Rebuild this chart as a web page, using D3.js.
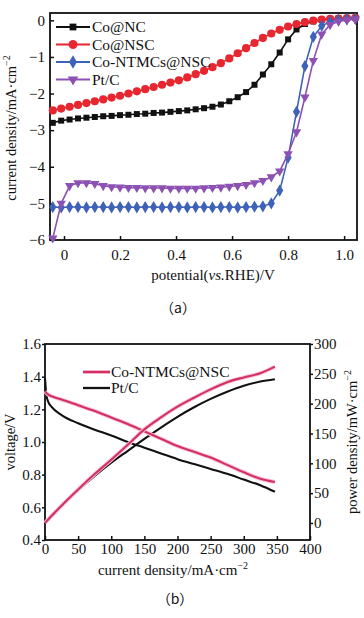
<!DOCTYPE html>
<html>
<head>
<meta charset="utf-8">
<script src="https://cdn.jsdelivr.net/npm/d3@7"></script>
<style>
  body { margin: 0; background: #fff; }
  svg { display: block; }
  text { font-family: "Liberation Serif", "Times New Roman", serif; fill: #111; }
</style>
</head>
<body>
<script>
// ---- panel (a) data: LSV curves ----
const potential = [-0.04, -0.01, 0.02, 0.05, 0.08, 0.11, 0.14, 0.17, 0.20, 0.23, 0.26, 0.29, 0.32, 0.35, 0.38, 0.41, 0.44, 0.47, 0.50, 0.53, 0.56, 0.59, 0.62, 0.65, 0.68, 0.71, 0.74, 0.77, 0.80, 0.83, 0.86, 0.89, 0.92, 0.95, 0.98, 1.01, 1.04];
const coNC = [-2.80, -2.74, -2.71, -2.68, -2.66, -2.64, -2.62, -2.61, -2.59, -2.58, -2.56, -2.55, -2.53, -2.52, -2.50, -2.48, -2.46, -2.43, -2.40, -2.36, -2.30, -2.21, -2.10, -1.96, -1.76, -1.48, -1.20, -0.88, -0.52, -0.25, -0.10, -0.03, 0.01, 0.03, 0.05, 0.06, 0.07];
const coNSC = [-2.46, -2.41, -2.36, -2.31, -2.26, -2.21, -2.16, -2.11, -2.06, -2.00, -1.94, -1.88, -1.82, -1.76, -1.70, -1.64, -1.56, -1.47, -1.38, -1.28, -1.17, -1.04, -0.90, -0.76, -0.62, -0.48, -0.36, -0.26, -0.17, -0.10, -0.05, -0.01, 0.02, 0.04, 0.05, 0.06, 0.07];
const coNTMCs = [-5.10, -5.11, -5.10, -5.10, -5.11, -5.10, -5.10, -5.11, -5.10, -5.10, -5.11, -5.10, -5.10, -5.11, -5.10, -5.10, -5.11, -5.10, -5.10, -5.11, -5.10, -5.10, -5.11, -5.10, -5.09, -5.08, -5.00, -4.65, -3.75, -2.50, -1.25, -0.45, -0.15, -0.04, 0.01, 0.03, 0.04];
const ptC = [-5.95, -5.00, -4.52, -4.44, -4.44, -4.46, -4.52, -4.55, -4.56, -4.57, -4.57, -4.58, -4.58, -4.58, -4.59, -4.59, -4.59, -4.59, -4.58, -4.57, -4.56, -4.54, -4.52, -4.49, -4.44, -4.38, -4.28, -4.12, -3.65, -3.05, -2.10, -1.10, -0.38, -0.12, -0.03, 0.01, 0.03];
const xTicksA = [0, 0.2, 0.4, 0.6, 0.8, 1.0];
const yTicksA = [0, -1, -2, -3, -4, -5, -6];

// ---- panel (b) data: polarization + power ----
const currentJ = [0, 2, 5, 10, 25, 50, 75, 100, 125, 150, 175, 200, 225, 250, 275, 300, 325, 347];
const voltNTMCs = [1.31, 1.30, 1.29, 1.28, 1.26, 1.225, 1.19, 1.15, 1.11, 1.065, 1.02, 0.975, 0.94, 0.905, 0.86, 0.815, 0.775, 0.755];
const powerNTMCs = [0, 2.5, 6, 12, 29, 56, 82, 106, 131, 157, 177, 195, 210, 224, 236, 244, 251, 262];
const voltPt = [1.39, 1.29, 1.245, 1.215, 1.165, 1.115, 1.075, 1.04, 1.00, 0.965, 0.93, 0.895, 0.865, 0.835, 0.805, 0.77, 0.735, 0.695];
const powerPt = [0, 2.5, 6, 12, 29, 55, 79, 101, 121, 141, 160, 178, 194, 208, 220, 230, 237, 241];
const xTicksB = [0, 50, 100, 150, 200, 250, 300, 350, 400];
const yTicksB = [0.4, 0.6, 0.8, 1.0, 1.2, 1.4, 1.6];
const yTicksB2 = [0, 50, 100, 150, 200, 250, 300];

const svg = d3.select("body").append("svg")
  .attr("width", 364)
  .attr("height", 618);

// ================= panel (a) =================
const a = { left: 50, right: 357, top: 13, bottom: 240 };
const xA = d3.scaleLinear().domain([-0.05, 1.046]).range([a.left, a.right]);
const yA = d3.scaleLinear().domain([-6, 0.2]).range([a.bottom, a.top]);

const gA = svg.append("g");

gA.append("g")
  .attr("transform", `translate(0,${a.bottom})`)
  .call(d3.axisBottom(xA).tickValues(xTicksA).tickSizeInner(-4).tickSizeOuter(0).tickPadding(9).tickFormat(d3.format(".1f")))
  .call(g => g.selectAll("text").text(d => d === 0 ? "0" : d3.format(".1f")(d)));
gA.append("g")
  .attr("transform", `translate(${a.left},0)`)
  .call(d3.axisLeft(yA).tickValues(yTicksA).tickSizeInner(-4).tickSizeOuter(0).tickPadding(5).tickFormat(d3.format("d")));

gA.selectAll(".tick text").style("font-family", "Liberation Serif").style("font-size", "15px").attr("fill", "#111");
gA.selectAll(".tick line").attr("stroke", "#111").attr("stroke-width", 1.5);
gA.selectAll(".domain").remove();

gA.append("rect")
  .attr("x", a.left).attr("y", a.top)
  .attr("width", a.right - a.left).attr("height", a.bottom - a.top)
  .attr("fill", "none").attr("stroke", "#111").attr("stroke-width", 1.8);

const seriesA = [
  { name: "Co@NC", values: coNC, color: "#111111", symbol: d3.symbolSquare, size: 36, rotate: 0 },
  { name: "Co@NSC", values: coNSC, color: "#e8262f", symbol: d3.symbolCircle, size: 52, rotate: 0 },
  { name: "Co-NTMCs@NSC", values: coNTMCs, color: "#3d62b8", symbol: d3.symbolDiamond, size: 44, rotate: 0 },
  { name: "Pt/C", values: ptC, color: "#8d50b3", symbol: d3.symbolTriangle, size: 38, rotate: 180 }
];

const lineA = d3.line().x(d => xA(d[0])).y(d => yA(d[1]));

seriesA.forEach(s => {
  const pts = potential.map((p, i) => [p, s.values[i]]);
  gA.append("path")
    .attr("d", lineA(pts))
    .attr("fill", "none")
    .attr("stroke", s.color)
    .attr("stroke-width", 1.6);
  gA.append("g").selectAll("path")
    .data(pts)
    .enter().append("path")
    .attr("d", d3.symbol().type(s.symbol).size(s.size))
    .attr("transform", d => `translate(${xA(d[0])},${yA(d[1])}) rotate(${s.rotate})`)
    .attr("fill", s.color);
});

// legend (a)
const legA = gA.append("g");
seriesA.forEach((s, i) => {
  const y = 27 + i * 17.5;
  legA.append("line")
    .attr("x1", 56).attr("x2", 90).attr("y1", y).attr("y2", y)
    .attr("stroke", s.color).attr("stroke-width", 1.8);
  legA.append("path")
    .attr("d", d3.symbol().type(s.symbol).size(s.size + 10))
    .attr("transform", `translate(73,${y}) rotate(${s.rotate})`)
    .attr("fill", s.color);
  legA.append("text")
    .attr("x", 92).attr("y", y + 5)
    .style("font-size", "15.5px")
    .text(s.name);
});

// titles (a)
const yTitleA = gA.append("text")
  .attr("transform", "translate(16,128) rotate(-90)")
  .attr("text-anchor", "middle")
  .style("font-size", "14.5px");
yTitleA.append("tspan").text("current density/mA·cm");
yTitleA.append("tspan").attr("dy", -6).style("font-size", "10px").text("−2");

const xTitleA = gA.append("text")
  .attr("x", 213).attr("y", 280)
  .attr("text-anchor", "middle")
  .style("font-size", "15px");
xTitleA.append("tspan").text("potential(");
xTitleA.append("tspan").style("font-style", "italic").text("vs.");
xTitleA.append("tspan").text("RHE)/V");

svg.append("text")
  .attr("x", 178).attr("y", 313)
  .attr("text-anchor", "middle")
  .style("font-family", "'Noto Sans CJK SC', 'Liberation Serif', serif")
  .style("font-size", "14px")
  .text("（a）");

// ================= panel (b) =================
const b = { left: 45, right: 310, top: 344, bottom: 540 };
const xB = d3.scaleLinear().domain([0, 400]).range([b.left, b.right]);
const yB = d3.scaleLinear().domain([0.4, 1.6]).range([b.bottom, b.top]);
const yB2 = d3.scaleLinear().domain([-28.5, 300]).range([b.bottom, b.top]);

const gB = svg.append("g");

gB.append("g")
  .attr("transform", `translate(0,${b.bottom})`)
  .call(d3.axisBottom(xB).tickValues(xTicksB).tickSizeInner(-4).tickSizeOuter(0).tickPadding(3).tickFormat(d3.format("d")));
gB.append("g")
  .attr("transform", `translate(${b.left},0)`)
  .call(d3.axisLeft(yB).tickValues(yTicksB).tickSizeInner(3).tickSizeOuter(0).tickPadding(1).tickFormat(d3.format(".1f")));
gB.append("g")
  .attr("transform", `translate(${b.right},0)`)
  .call(d3.axisRight(yB2).tickValues(yTicksB2).tickSizeInner(3).tickSizeOuter(0).tickPadding(1).tickFormat(d3.format("d")));

gB.selectAll(".tick text").style("font-family", "Liberation Serif").style("font-size", "15px").attr("fill", "#111");
gB.selectAll(".tick line").attr("stroke", "#111").attr("stroke-width", 1.5);
gB.selectAll(".domain").remove();

gB.append("rect")
  .attr("x", b.left).attr("y", b.top)
  .attr("width", b.right - b.left).attr("height", b.bottom - b.top)
  .attr("fill", "none").attr("stroke", "#111").attr("stroke-width", 1.8);

const pink = "#d42f66";
const glow = "#f7c6d5";
const seriesB = [
  { values: voltPt, scale: yB, color: "#111111", glow: null },
  { values: powerPt, scale: yB2, color: "#111111", glow: null },
  { values: voltNTMCs, scale: yB, color: pink, glow: glow },
  { values: powerNTMCs, scale: yB2, color: pink, glow: glow }
];

seriesB.forEach(s => {
  const line = d3.line().curve(d3.curveMonotoneX).x(d => xB(d[0])).y(d => s.scale(d[1]));
  const pts = currentJ.map((j, i) => [j, s.values[i]]);
  if (s.glow) {
    gB.append("path")
      .attr("d", line(pts))
      .attr("fill", "none")
      .attr("stroke", s.glow)
      .attr("stroke-width", 4);
  }
  gB.append("path")
    .attr("d", line(pts))
    .attr("fill", "none")
    .attr("stroke", s.color)
    .attr("stroke-width", 2.1);
});

// legend (b)
const legB = [
  { name: "Co-NTMCs@NSC", color: pink, glow: glow },
  { name: "Pt/C", color: "#111111", glow: null }
];
legB.forEach((s, i) => {
  const y = 372 + i * 16;
  if (s.glow) {
    gB.append("line")
      .attr("x1", 83).attr("x2", 110).attr("y1", y).attr("y2", y)
      .attr("stroke", s.glow).attr("stroke-width", 4);
  }
  gB.append("line")
    .attr("x1", 83).attr("x2", 110).attr("y1", y).attr("y2", y)
    .attr("stroke", s.color).attr("stroke-width", 2.3);
  gB.append("text")
    .attr("x", 111).attr("y", y + 5)
    .style("font-size", "15.5px")
    .text(s.name);
});

// titles (b)
gB.append("text")
  .attr("transform", "translate(15,442) rotate(-90)")
  .attr("text-anchor", "middle")
  .style("font-size", "14.5px")
  .text("voltage/V");

const y2Title = gB.append("text")
  .attr("transform", "translate(357,442) rotate(-90)")
  .attr("text-anchor", "middle")
  .style("font-size", "14.5px");
y2Title.append("tspan").text("power density/mW·cm");
y2Title.append("tspan").attr("dy", -6).style("font-size", "10px").text("−2");

const xTitleB = gB.append("text")
  .attr("x", 173).attr("y", 575)
  .attr("text-anchor", "middle")
  .style("font-size", "15px");
xTitleB.append("tspan").text("current density/mA·cm");
xTitleB.append("tspan").attr("dy", -6).style("font-size", "10px").text("−2");

svg.append("text")
  .attr("x", 175).attr("y", 604)
  .attr("text-anchor", "middle")
  .style("font-family", "'Noto Sans CJK SC', 'Liberation Serif', serif")
  .style("font-size", "14px")
  .text("（b）");
</script>
</body>
</html>
